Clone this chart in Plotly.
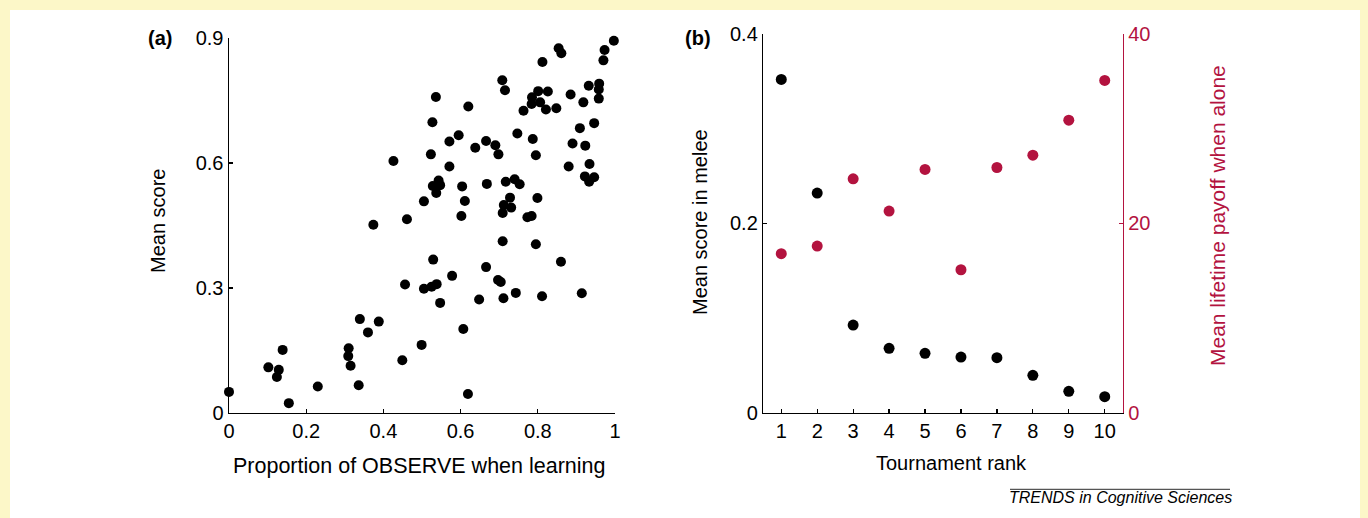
import plotly.graph_objects as go

# ---------------- Panel (a) data ----------------
observe_prop = [
    0.997, 0.973, 0.970, 0.854, 0.861, 0.812, 0.708, 0.715, 0.801, 0.826,
    0.785, 0.784, 0.806, 0.763, 0.821, 0.848, 0.885, 0.918, 0.932, 0.959,
    0.958, 0.958, 0.946, 0.909, 0.890, 0.923, 0.880, 0.934, 0.922, 0.946,
    0.933, 0.536, 0.527, 0.620, 0.595, 0.571, 0.638, 0.666, 0.690, 0.698,
    0.747, 0.787, 0.795, 0.523, 0.426, 0.571, 0.543, 0.528, 0.547, 0.537,
    0.505, 0.604, 0.611, 0.668, 0.717, 0.740, 0.753, 0.728, 0.712, 0.731,
    0.709, 0.799, 0.602, 0.461, 0.773, 0.784, 0.374, 0.709, 0.795, 0.529,
    0.860, 0.666, 0.578, 0.456, 0.505, 0.525, 0.538, 0.697, 0.704, 0.743,
    0.914, 0.811, 0.711, 0.648, 0.547, 0.339, 0.388, 0.360, 0.607, 0.499,
    0.139, 0.310, 0.309, 0.315, 0.102, 0.129, 0.124, 0.449, 0.230, 0.336,
    0.000, 0.155, 0.619,
]
mean_score = [
    0.894, 0.872, 0.847, 0.876, 0.864, 0.843, 0.799, 0.775, 0.773, 0.772,
    0.758, 0.742, 0.746, 0.726, 0.729, 0.732, 0.765, 0.746, 0.786, 0.791,
    0.777, 0.755, 0.696, 0.684, 0.647, 0.642, 0.592, 0.598, 0.568, 0.566,
    0.555, 0.759, 0.698, 0.736, 0.667, 0.652, 0.637, 0.653, 0.643, 0.621,
    0.671, 0.658, 0.619, 0.621, 0.605, 0.592, 0.558, 0.545, 0.547, 0.528,
    0.508, 0.544, 0.509, 0.550, 0.555, 0.561, 0.549, 0.517, 0.499, 0.493,
    0.480, 0.516, 0.473, 0.465, 0.470, 0.473, 0.452, 0.412, 0.405, 0.368,
    0.363, 0.350, 0.329, 0.308, 0.298, 0.303, 0.309, 0.319, 0.314, 0.288,
    0.287, 0.280, 0.275, 0.272, 0.264, 0.225, 0.219, 0.193, 0.201, 0.163,
    0.151, 0.155, 0.136, 0.113, 0.109, 0.103, 0.086, 0.126, 0.063, 0.066,
    0.050, 0.023, 0.045,
]
a_xticks = [0, 0.2, 0.4, 0.6, 0.8, 1]
a_xticklabels = ["0", "0.2", "0.4", "0.6", "0.8", "1"]
a_yticks = [0, 0.3, 0.6, 0.9]
a_yticklabels = ["0", "0.3", "0.6", "0.9"]

# ---------------- Panel (b) data ----------------
rank = [1, 2, 3, 4, 5, 6, 7, 8, 9, 10]
melee_score = [0.352, 0.232, 0.0926, 0.068, 0.0627, 0.0588, 0.0581, 0.0395, 0.0226, 0.0169]
alone_payoff = [16.8, 17.6, 24.7, 21.3, 25.7, 15.1, 25.9, 27.2, 30.9, 35.1]
b_yticks_left = [0, 0.2, 0.4]
b_yticklabels_left = ["0", "0.2", "0.4"]
b_yticks_right = [0, 20, 40]
b_yticklabels_right = ["0", "20", "40"]

RED = "#B3133F"
FONT = "Liberation Sans, Arial, Helvetica, sans-serif"
W, H = 1368, 518

fig = go.Figure()

fig.add_trace(go.Scatter(
    x=observe_prop, y=mean_score, mode="markers",
    marker=dict(color="black", size=10, line=dict(width=0)),
    xaxis="x", yaxis="y", cliponaxis=False, showlegend=False,
))
fig.add_trace(go.Scatter(
    x=rank, y=melee_score, mode="markers",
    marker=dict(color="black", size=11, line=dict(width=0)),
    xaxis="x2", yaxis="y2", cliponaxis=False, showlegend=False,
))
fig.add_trace(go.Scatter(
    x=rank, y=alone_payoff, mode="markers",
    marker=dict(color=RED, size=11, line=dict(width=0)),
    xaxis="x2", yaxis="y3", cliponaxis=False, showlegend=False,
))

def px_x(p):
    return p / W

def px_y(p):
    return 1 - p / H

axis_common = dict(
    showgrid=False, zeroline=False, showline=True, linecolor="black",
    linewidth=1.5, ticks="inside", ticklen=4, tickwidth=1.3, tickcolor="black",
    tickfont=dict(family=FONT, size=20, color="black"), automargin=False,
)

fig.update_layout(
    template="none",
    width=W, height=H, autosize=False,
    margin=dict(l=0, r=0, t=0, b=0, pad=0),
    paper_bgcolor="#FCF7C8",
    plot_bgcolor="rgba(0,0,0,0)",
    font=dict(family=FONT, size=20, color="black"),
    showlegend=False,
    xaxis=dict(
        domain=[px_x(229), px_x(615)], range=[0, 1], anchor="y",
        tickvals=a_xticks, ticktext=a_xticklabels, **axis_common,
    ),
    yaxis=dict(
        domain=[px_y(412.7), px_y(38.3)], range=[0, 0.9], anchor="x",
        tickvals=a_yticks, ticktext=a_yticklabels, **axis_common,
    ),
    xaxis2=dict(
        domain=[px_x(763.3), px_x(1122.7)], range=[0.5, 10.5], anchor="y2",
        tickvals=rank, ticktext=[str(r) for r in rank], **axis_common,
    ),
    yaxis2=dict(
        domain=[px_y(412.7), px_y(34)], range=[0, 0.4], anchor="x2",
        tickvals=b_yticks_left, ticktext=b_yticklabels_left, **axis_common,
    ),
    yaxis3=dict(
        overlaying="y2", side="right", anchor="x2", range=[0, 40],
        tickvals=b_yticks_right, ticktext=b_yticklabels_right,
        showgrid=False, zeroline=False, showline=True, linecolor=RED,
        linewidth=1.5, ticks="inside", ticklen=4, tickwidth=1.3, tickcolor=RED,
        tickfont=dict(family=FONT, size=20, color=RED), automargin=False,
    ),
)

# White panel over the pale yellow frame
fig.add_shape(type="rect", xref="paper", yref="paper",
              x0=px_x(10), x1=px_x(1360), y0=0, y1=px_y(10),
              fillcolor="white", line=dict(width=0), layer="below")

# Footer rule
fig.add_shape(type="line", xref="paper", yref="paper",
              x0=px_x(1010), x1=px_x(1230), y0=px_y(489.3), y1=px_y(489.3),
              line=dict(color="#555555", width=1.2))

def ann(text, x, y, size=20, color="black", angle=0, bold=False, italic=False):
    t = text
    if bold:
        t = "<b>" + t + "</b>"
    if italic:
        t = "<i>" + t + "</i>"
    fig.add_annotation(text=t, x=px_x(x), y=px_y(y), xref="paper", yref="paper",
                       showarrow=False, textangle=angle, xanchor="center",
                       yanchor="middle", font=dict(family=FONT, size=size, color=color))

ann("(a)", 160, 38, size=20, bold=True)
ann("(b)", 698, 38, size=20, bold=True)
ann("Mean score", 158, 221, angle=-90)
ann("Proportion of OBSERVE when learning", 418.5, 466, size=21.5)
ann("Mean score in melee", 700, 222, angle=-90)
ann("Mean lifetime payoff when alone", 1217, 216, angle=-90, color=RED, size=21)
ann("Tournament rank", 951.7, 463)
ann("TRENDS in Cognitive Sciences", 1120, 497, size=16, italic=True)

fig.write_html(
    "out.html",
    config={"displayModeBar": False, "staticPlot": True},
    post_script="document.body.style.margin='0';document.body.style.padding='0';"
                "document.body.style.overflow='hidden';",
)
